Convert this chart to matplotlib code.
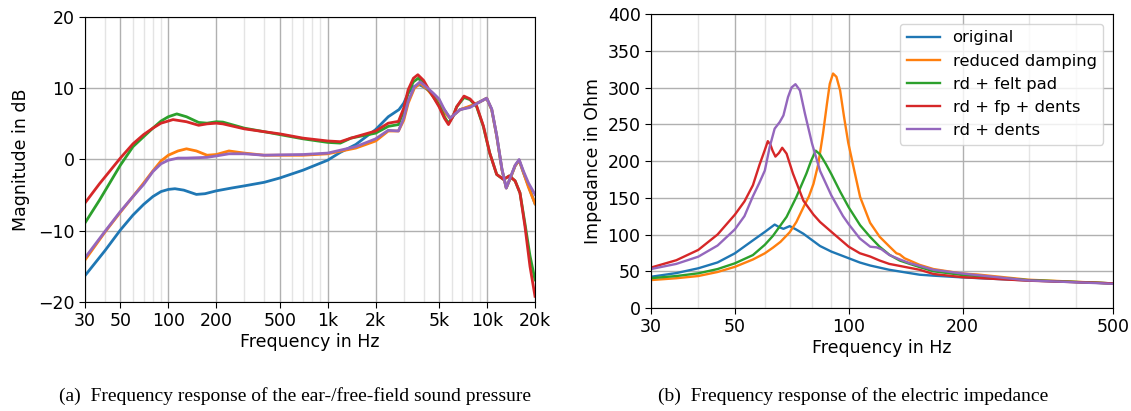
import matplotlib
matplotlib.use("Agg")
import matplotlib.pyplot as plt
from matplotlib.ticker import FixedLocator, NullFormatter

# ---------------- data: left plot (ear/free-field magnitude, dB) ----------------
f_orig = [30, 40, 50, 60, 70, 80, 90, 100, 110, 125, 150, 170, 200, 250, 300, 400, 500, 700,
          1000, 1200, 1500, 2000, 2400, 2800, 3000, 3200, 3450, 3750, 4000, 4400, 5000, 5500,
          5860, 6300, 6770, 7820, 9030, 9950, 10700, 11500, 12400, 13200, 13900, 15000, 15900,
          16900, 18200, 20000]
m_orig = [-16.3, -12.8, -9.9, -7.8, -6.3, -5.2, -4.5, -4.2, -4.1, -4.3, -4.9, -4.8, -4.4, -4.0,
          -3.7, -3.2, -2.6, -1.5, -0.1, 1.0, 2.1, 4.2, 6.0, 7.0, 7.9, 9.3, 10.2, 10.5, 10.2, 9.5,
          8.1, 6.7, 5.8, 6.4, 7.0, 7.4, 8.1, 8.6, 7.0, 3.3, -1.4, -4.0, -2.8, -0.9, -0.1, -1.8,
          -3.7, -6.2]

f_rd = [30, 40, 50, 60, 70, 80, 90, 100, 115, 130, 150, 175, 200, 240, 300, 400, 500, 700,
        1000, 1500, 2000, 2400, 2780, 3000, 3200, 3500, 3800, 4200, 4600, 5000, 5400, 5860,
        6300, 6770, 7820, 9030, 9950, 10700, 11500, 12400, 13200, 13900, 15000, 15900, 16900,
        18200, 20000]
m_rd = [-14.1, -10.2, -7.4, -5.2, -3.3, -1.6, -0.2, 0.6, 1.2, 1.5, 1.2, 0.6, 0.7, 1.2, 0.9,
        0.6, 0.6, 0.6, 0.8, 1.6, 2.6, 4.0, 4.0, 5.5, 7.9, 10.0, 10.7, 9.9, 8.8, 7.9, 6.6, 5.8,
        6.4, 7.0, 7.5, 8.1, 8.6, 7.0, 3.3, -1.4, -4.0, -2.8, -0.9, -0.1, -1.8, -3.9, -6.2]

f_fp = [30, 37, 50, 60, 70, 80, 90, 100, 113, 130, 155, 175, 200, 220, 300, 400, 500, 700,
        1000, 1200, 1400, 2000, 2400, 2780, 3000, 3200, 3450, 3700, 4000, 4400, 5000, 5400,
        5730, 6100, 6450, 7170, 7820, 8610, 9490, 10400, 11500, 12700, 13800, 15000, 16100,
        17300, 18600, 20000]
m_fp = [-8.9, -5.7, -0.8, 1.8, 3.2, 4.4, 5.4, 6.0, 6.4, 6.0, 5.2, 5.1, 5.3, 5.25, 4.4, 3.9,
        3.5, 2.9, 2.4, 2.3, 3.0, 3.7, 4.65, 4.9, 6.8, 9.4, 10.9, 11.4, 10.7, 9.5, 7.6, 6.0,
        5.1, 6.0, 7.4, 8.7, 8.4, 7.4, 4.6, 0.9, -2.1, -2.8, -2.3, -3.0, -4.7, -9.0, -13.5, -16.9]

f_fpd = [30, 37, 50, 60, 70, 80, 90, 100, 107, 130, 155, 175, 200, 220, 300, 400, 500, 700,
         1000, 1200, 1400, 2000, 2400, 2780, 3000, 3200, 3450, 3680, 4000, 4400, 5000, 5400,
         5730, 6100, 6450, 7170, 7820, 8610, 9490, 10400, 11500, 12700, 13800, 15000, 16100,
         17300, 18600, 20000]
m_fpd = [-6.1, -3.4, 0.2, 2.2, 3.5, 4.4, 5.1, 5.4, 5.6, 5.3, 4.8, 5.0, 5.1, 5.0, 4.3, 3.9,
         3.6, 3.0, 2.6, 2.5, 3.0, 4.0, 5.1, 5.35, 7.2, 9.8, 11.4, 11.9, 11.1, 9.5, 7.4, 5.8,
         4.9, 6.0, 7.4, 8.9, 8.5, 7.5, 4.7, 0.9, -2.1, -2.8, -2.3, -3.0, -4.7, -9.4, -15.0, -19.2]

f_dents = [30, 40, 50, 60, 70, 80, 90, 100, 115, 130, 175, 200, 240, 300, 400, 500, 700, 1000,
           1500, 2000, 2400, 2780, 3000, 3200, 3500, 3800, 4200, 4600, 5000, 5400, 5860, 6300,
           6770, 7820, 9030, 9950, 10700, 11500, 12400, 13200, 13900, 15000, 15900, 16900,
           18200, 20000]
m_dents = [-13.8, -10.1, -7.3, -5.2, -3.5, -1.7, -0.6, -0.1, 0.2, 0.2, 0.3, 0.5, 0.8, 0.8, 0.6,
           0.65, 0.7, 0.9, 1.8, 2.9, 4.1, 4.0, 5.8, 8.2, 10.2, 10.9, 10.1, 9.3, 8.5, 7.0, 5.8,
           6.4, 7.0, 7.3, 8.1, 8.6, 7.1, 3.4, -1.3, -4.0, -2.7, -0.8, 0.0, -1.6, -3.3, -4.9]

left_xticks = [30, 50, 100, 200, 500, 1000, 2000, 5000, 10000, 20000]
left_xticklabels = ["30", "50", "100", "200", "500", "1k", "2k", "5k", "10k", "20k"]
left_yticks = [-20, -10, 0, 10, 20]

# ---------------- data: right plot (electric impedance, Ohm) ----------------
fi_orig = [30, 35, 40, 45, 50, 55.8, 60, 63.7, 65.5, 67.2, 69.8, 72.5, 75.9, 81.4, 84, 90,
           100, 107, 114, 128, 154, 167.5, 199, 298, 500]
z_orig = [42.5, 47.5, 54, 62, 74.4, 92, 103.5, 113.5, 110, 107.7, 111.4, 107, 101, 89.5, 84.3,
          76.7, 67.7, 61.9, 57.8, 52, 45.3, 44, 41.7, 37.5, 33.5]

fi_rd = [30, 35, 40, 45, 50, 55.8, 60, 63, 66, 69.8, 72.7, 75.9, 78.5, 80.7, 83.1, 85.5, 87.6,
         89.1, 90.9, 92.8, 94.9, 97.2, 99.7, 103.5, 107.2, 113.9, 120.7, 128.3, 133.7, 136.4,
         140.5, 154, 167.5, 199, 220, 298, 500]
z_rd = [38, 40.5, 43.5, 49, 56, 66, 74.4, 82, 90, 103, 117, 137, 152, 169, 196, 237, 278, 305,
        319, 314.5, 296, 260, 225, 186.5, 151, 116, 97, 83.4, 74.5, 73, 67.7, 58.7, 53, 47,
        45.5, 38.5, 33.5]

fi_fp = [30, 35, 40, 45, 50, 55.8, 60, 63, 65.7, 68.5, 72.7, 77.3, 79.5, 81.8, 84, 87, 90, 95,
         100, 107.2, 113.9, 120.7, 128.3, 136.4, 145, 154.2, 167.5, 199, 298, 500]
z_fp = [40.6, 43.5, 47.2, 53, 60.8, 72, 86, 98, 111, 124, 151, 183, 200, 214, 209, 196, 182,
        158, 137, 112.6, 96.8, 83.4, 72.2, 64.6, 60, 55.6, 50, 45, 38, 33.5]

fi_fpd = [30, 35, 40, 45, 50, 53, 55.8, 58.1, 60, 61.1, 62.1, 62.9, 64, 65.4, 66.7, 68.5, 71.2,
          75.9, 80.7, 84, 90, 100, 107, 114, 120.7, 128, 136, 154, 167.5, 199, 298, 500]
z_fpd = [55, 65, 79, 100, 127, 145, 167, 195, 215, 227, 222, 214, 206, 211, 218, 210, 183, 146,
         127, 117, 103.6, 83.4, 74.5, 70, 64.6, 60, 57.4, 52, 46.3, 42, 37.2, 33.5]

fi_dents = [30, 35, 40, 45, 50, 53, 55.8, 58, 60, 61.8, 63.7, 65.7, 67.2, 69.1, 70.6, 72.3,
            74.3, 76.6, 80, 84, 90, 96.6, 100, 107, 114, 118.5, 122, 128, 136, 145, 154, 167.5,
            199, 298, 500]
z_dents = [53, 60, 69.8, 85, 107, 125, 152, 170, 187, 219, 244, 253, 262, 287, 300, 304.5, 296,
           264.5, 223.6, 186.5, 153, 125, 114, 94.6, 83.4, 82.5, 80, 72.2, 66.4, 61, 57.4, 52,
           47, 37.5, 33]

right_xticks = [30, 50, 100, 200, 500]
right_xticklabels = ["30", "50", "100", "200", "500"]
right_yticks = [0, 50, 100, 150, 200, 250, 300, 350, 400]

labels = ["original", "reduced damping", "rd + felt pad", "rd + fp + dents", "rd + dents"]
colors = ["#1f77b4", "#ff7f0e", "#2ca02c", "#d62728", "#9467bd"]

caption_a = "(a)  Frequency response of the ear-/free-field sound pressure"
caption_b = "(b)  Frequency response of the electric impedance"

# ---------------- figure ----------------
W, H = 1131, 411
fig = plt.figure(figsize=(W / 100, H / 100), dpi=100)
FS = 12.5

def box(x0, y0, x1, y1):
    return [x0 / W, 1 - y1 / H, (x1 - x0) / W, (y1 - y0) / H]

def style_grid(ax, minor_pos):
    ax.set_axisbelow(True)
    ax.xaxis.set_minor_locator(FixedLocator(minor_pos))
    ax.xaxis.set_minor_formatter(NullFormatter())
    ax.grid(True, which="major", color="#b0b0b0", linewidth=1.0)
    ax.grid(True, which="minor", axis="x", color="#e4e4e4", linewidth=1.0)
    ax.tick_params(which="minor", length=0)
    ax.tick_params(which="major", labelsize=FS, length=4)

# left
ax1 = fig.add_axes(box(85, 17, 535, 302))
series_left = [(f_orig, m_orig), (f_rd, m_rd), (f_fp, m_fp), (f_fpd, m_fpd), (f_dents, m_dents)]
for (x, y), c, lab in zip(series_left, colors, labels):
    ax1.plot(x, y, color=c, lw=2.0, label=lab, solid_joinstyle="round")
ax1.set_xscale("log")
ax1.set_xlim(30, 20000)
ax1.set_ylim(-20, 20)
ax1.xaxis.set_major_locator(FixedLocator(left_xticks))
ax1.set_xticklabels(left_xticklabels)
ax1.set_yticks(left_yticks)
minor_left = [40, 60, 70, 80, 90, 300, 400, 600, 700, 800, 900, 3000, 4000, 6000, 7000, 8000, 9000]
style_grid(ax1, minor_left)
ax1.set_xlabel("Frequency in Hz", fontsize=FS, labelpad=2)
ax1.set_ylabel("Magnitude in dB", fontsize=FS, labelpad=6)

# right
ax2 = fig.add_axes(box(651, 14, 1113, 308))
series_right = [(fi_orig, z_orig), (fi_rd, z_rd), (fi_fp, z_fp), (fi_fpd, z_fpd), (fi_dents, z_dents)]
for (x, y), c, lab in zip(series_right, colors, labels):
    ax2.plot(x, y, color=c, lw=1.7, label=lab, solid_joinstyle="round")
ax2.set_xscale("log")
ax2.set_xlim(30, 500)
ax2.set_ylim(0, 400)
ax2.xaxis.set_major_locator(FixedLocator(right_xticks))
ax2.set_xticklabels(right_xticklabels)
ax2.set_yticks(right_yticks)
minor_right = [40, 60, 70, 80, 90, 300, 400]
style_grid(ax2, minor_right)
ax2.set_xlabel("Frequency in Hz", fontsize=FS, labelpad=2)
ax2.set_ylabel("Impedance in Ohm", fontsize=FS, labelpad=4)
ax2.legend(loc="upper right", fontsize=11.8, handlelength=2.0, borderaxespad=0.6)

fig.text(295 / W, 1 - 396 / H, caption_a, ha="center", va="center",
         family="Liberation Serif", fontsize=14)
fig.text(853 / W, 1 - 396 / H, caption_b, ha="center", va="center",
         family="Liberation Serif", fontsize=14)

fig.savefig("out.png", dpi=100)
